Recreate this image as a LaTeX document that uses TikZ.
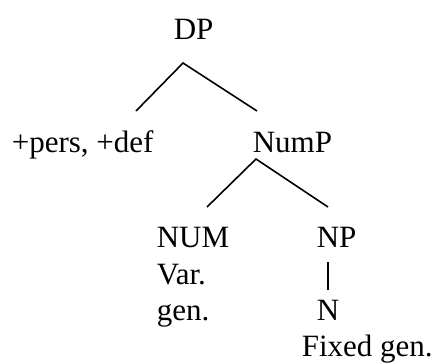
\documentclass[tikz,border=0pt]{standalone}
\usepackage{fontspec}
\setmainfont{Liberation Serif}
\usetikzlibrary{positioning}

\begin{document}
\begin{tikzpicture}[x=1pt, y=-1pt, line width=1.6pt,
		lbl/.style={anchor=base west, inner sep=0pt, font=\fontsize{31}{37}\selectfont}]
			\useasboundingbox (0,0) rectangle (436,362);
			\node [lbl] (dp) at (173,39) {DP};
			\node [lbl] (pers) at (11,152) {+pers, +def};
			\node [lbl] (nump) at (252,152) {NumP};
			\node [lbl] (num) at (156,247) {NUM};
			\node [lbl] (var) at (156,284) {Var.};
			\node [lbl] (vgen) at (156,320) {gen.};
			\node [lbl] (np) at (316,247) {NP};
			\node [lbl] (n) at (316,320) {N};
			\node [lbl] (fixed) at (301,356) {Fixed gen.};
			\draw ([shift={(125,-41)}]pers.base west) -- ([shift={(10,24)}]dp.base west) -- ([shift={(5,-41)}]nump.base west);
			\draw ([shift={(51,-40)}]num.base west) -- ([shift={(4,7)}]nump.base west) -- ([shift={(12,-40)}]np.base west);
			\draw[line width=1.5pt, shorten <=8.5pt, shorten >=15pt] (n.north) -- (n.north |- np.base);
		\end{tikzpicture}
\end{document}
